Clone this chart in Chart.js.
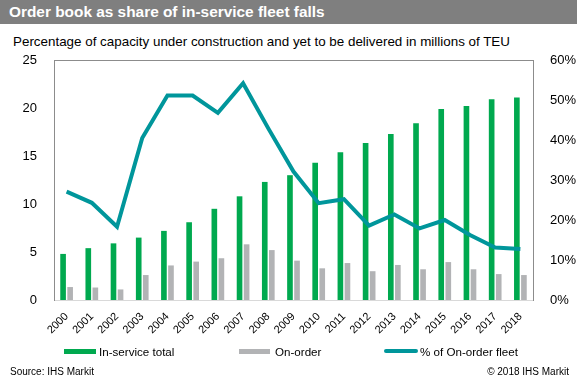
<!DOCTYPE html>
<html>
<head>
<meta charset="utf-8">
<script src="https://cdn.jsdelivr.net/npm/chart.js@4.4.1/dist/chart.umd.min.js"></script>
<style>
  body { margin: 0; width: 577px; height: 384px; overflow: hidden; background: #fff; font-family: "Liberation Sans", Arial, sans-serif; position: relative; }
  #header { position: absolute; left: 0; top: 0; width: 577px; height: 24px; background: #7f7f7f; }
  #header span { position: absolute; left: 9px; top: 3px; color: #fff; font-weight: bold; font-size: 15.4px; }
  #subtitle { position: absolute; left: 13px; top: 34px; font-size: 13.4px; color: #000; }
  #chart { position: absolute; left: 0; top: 0; }
  .leg { position: absolute; top: 344px; font-size: 11.6px; color: #000; line-height: 16px; }
  .patch { position: absolute; }
  #source { position: absolute; left: 10px; top: 366px; font-size: 10px; color: #000; }
  #copy { position: absolute; right: 8px; top: 366px; font-size: 10px; color: #000; }
</style>
</head>
<body>
<div id="header"><span>Order book as share of in-service fleet falls</span></div>
<div id="subtitle">Percentage of capacity under construction and yet to be delivered in millions of TEU</div>
<canvas id="chart" width="577" height="384"></canvas>

<div class="patch" style="left:64px;top:349px;width:32px;height:5px;background:#00a94f"></div>
<div class="leg" style="left:99px">In-service total</div>
<div class="patch" style="left:239px;top:349px;width:31px;height:5px;background:#b2b3b5"></div>
<div class="leg" style="left:275px">On-order</div>
<div class="patch" style="left:384px;top:349px;width:34px;height:4px;border-radius:2px;background:#00969b"></div>
<div class="leg" style="left:420px">% of On-order fleet</div>

<div id="source">Source: IHS Markit</div>
<div id="copy">© 2018 IHS Markit</div>

<script>
const years = ['2000', '2001', '2002', '2003', '2004', '2005', '2006', '2007', '2008', '2009',
               '2010', '2011', '2012', '2013', '2014', '2015', '2016', '2017', '2018'];
const inService = [4.8, 5.4, 5.9, 6.5, 7.2, 8.1, 9.5, 10.8, 12.3, 13.0,
                   14.3, 15.4, 16.35, 17.3, 18.4, 19.9, 20.2, 20.9, 21.1];
const onOrder = [1.35, 1.3, 1.1, 2.6, 3.6, 4.0, 4.35, 5.8, 5.2, 4.1,
                 3.3, 3.85, 3.0, 3.65, 3.2, 3.95, 3.2, 2.7, 2.6];
const orderPct = [27.1, 24.3, 18.3, 40.5, 51.1, 51.1, 46.8, 54.2, 42.9, 32.1,
                  24.2, 25.2, 18.6, 21.4, 17.9, 20.0, 16.25, 13.1, 12.75];
const leftTicks = [0, 5, 10, 15, 20, 25];
const rightTicks = [0, 10, 20, 30, 40, 50, 60];

// linea superior del recuadro
const topBorder = {
    id: 'topBorder',
    afterDraw(chart) {
        const a = chart.chartArea;
        const ctx = chart.ctx;
        ctx.save();
        ctx.strokeStyle = '#8c8c8c';
        ctx.lineWidth = 1;
        ctx.beginPath();
        ctx.moveTo(a.left, a.top + 0.5);
        ctx.lineTo(a.right, a.top + 0.5);
        ctx.stroke();
        ctx.restore();
    }
};

const tickFont = { family: '"Liberation Sans", Arial, sans-serif', size: 13 };

new Chart(document.getElementById('chart'), {
    type: 'bar',
    data: {
        labels: years,
        datasets: [
            {
                type: 'line',
                label: '% of On-order fleet',
                data: orderPct,
                yAxisID: 'y1',
                borderColor: '#00969b',
                borderWidth: 4,
                pointRadius: 0,
                tension: 0,
                order: 0
            },
            {
                label: 'In-service total',
                data: inService,
                backgroundColor: '#00a94f',
                categoryPercentage: 0.56,
                barPercentage: 0.8,
                order: 1
            },
            {
                label: 'On-order',
                data: onOrder,
                backgroundColor: '#b2b3b5',
                categoryPercentage: 0.56,
                barPercentage: 0.8,
                order: 1
            }
        ]
    },
    options: {
        responsive: false,
        animation: false,
        layout: { padding: { top: 60, bottom: 44, left: 0, right: 0 } },
        plugins: { legend: { display: false }, tooltip: { enabled: false } },
        scales: {
            x: {
                grid: { display: false },
                border: { color: '#d9d9d9' },
                ticks: { color: '#000', font: { family: tickFont.family, size: 11 }, minRotation: 45, maxRotation: 45, autoSkip: false, padding: 2 },
                afterFit(s) { s.height = 40; }
            },
            y: {
                position: 'left',
                min: 0, max: 25,
                grid: { display: false },
                border: { color: '#8c8c8c' },
                afterBuildTicks(s) { s.ticks = leftTicks.map(v => ({ value: v })); },
                ticks: { color: '#000', font: tickFont, padding: 9 },
                afterFit(s) { s.width = 54; }
            },
            y1: {
                position: 'right',
                min: 0, max: 60,
                grid: { display: false },
                border: { color: '#8c8c8c' },
                afterBuildTicks(s) { s.ticks = rightTicks.map(v => ({ value: v })); },
                ticks: { color: '#000', font: tickFont, padding: 9, callback: v => v + '%' },
                afterFit(s) { s.width = 44; }
            }
        }
    },
    plugins: [topBorder]
});
</script>
</body>
</html>
